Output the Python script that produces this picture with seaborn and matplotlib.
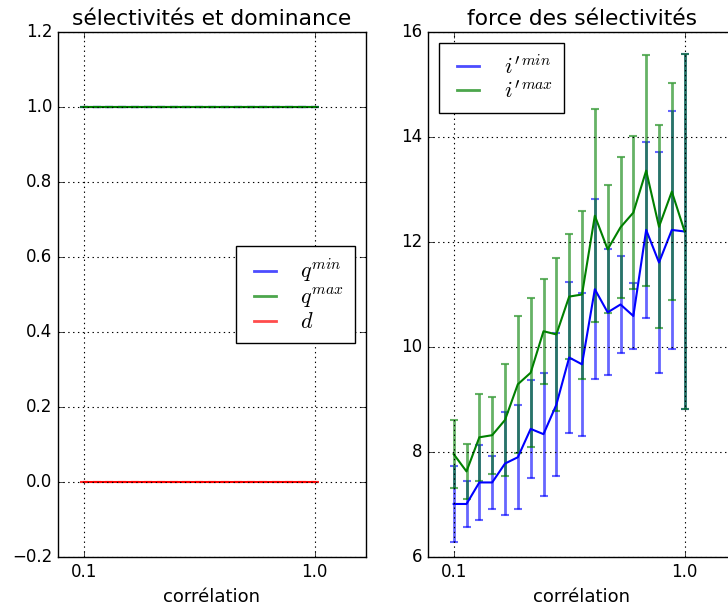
import matplotlib
matplotlib.use("Agg")
import matplotlib.pyplot as plt
from matplotlib.lines import Line2D
import seaborn as sns
import pandas as pd

# ---- data ----
corr = [0.10, 0.15, 0.20, 0.25, 0.30, 0.35, 0.40, 0.45, 0.50, 0.55,
        0.60, 0.65, 0.70, 0.75, 0.80, 0.85, 0.90, 0.95, 1.00]

q_min = [1.0, 1.0, 1.0, 1.0, 1.0, 1.0, 1.0, 1.0, 1.0, 1.0,
         1.0, 1.0, 1.0, 1.0, 1.0, 1.0, 1.0, 1.0, 1.0]
q_max = [1.0, 1.0, 1.0, 1.0, 1.0, 1.0, 1.0, 1.0, 1.0, 1.0,
         1.0, 1.0, 1.0, 1.0, 1.0, 1.0, 1.0, 1.0, 1.0]
d_vals = [0.0, 0.0, 0.0, 0.0, 0.0, 0.0, 0.0, 0.0, 0.0, 0.0,
          0.0, 0.0, 0.0, 0.0, 0.0, 0.0, 0.0, 0.0, 0.0]
zero_err = [0.0, 0.0, 0.0, 0.0, 0.0, 0.0, 0.0, 0.0, 0.0, 0.0,
            0.0, 0.0, 0.0, 0.0, 0.0, 0.0, 0.0, 0.0, 0.0]

i_min = [7.01, 7.01, 7.42, 7.42, 7.78, 7.90, 8.44, 8.34, 8.90, 9.80,
         9.67, 11.10, 10.66, 10.81, 10.59, 12.23, 11.61, 12.23, 12.20]
i_min_err = [0.73, 0.43, 0.72, 0.50, 0.98, 0.99, 0.94, 1.17, 1.36, 1.44,
             1.36, 1.71, 1.20, 0.92, 0.63, 1.68, 2.10, 2.27, 3.38]
i_max = [7.96, 7.63, 8.28, 8.32, 8.61, 9.29, 9.51, 10.30, 10.24, 10.96,
         11.00, 12.50, 11.86, 12.28, 12.56, 13.36, 12.29, 12.96, 12.20]
i_max_err = [0.65, 0.53, 0.83, 0.73, 1.06, 1.30, 1.42, 1.00, 1.46, 1.19,
             1.60, 2.03, 1.22, 1.34, 1.45, 2.20, 1.93, 2.07, 3.38]

left_labels = [r"$q^{min}$", r"$q^{max}$", r"$d$"]
right_labels = [r"$i'^{min}$", r"$i'^{max}$"]
x_ticks = [0.1, 1.0]
x_ticklabels = ["0.1", "1.0"]
left_yticks = [-0.2, 0.0, 0.2, 0.4, 0.6, 0.8, 1.0, 1.2]
right_yticks = [6, 8, 10, 12, 14, 16]

# ---- style ----
sns.set_style("ticks", {"axes.facecolor": "white"})
plt.style.use("classic")
plt.rcParams.update({
    "figure.facecolor": "white",
    "savefig.facecolor": "white",
    "font.family": ["DejaVu Sans"],
    "mathtext.fontset": "cm",
    "font.size": 12,
})

W, H = 728, 606
fig = plt.figure(figsize=(W / 100, H / 100), dpi=100)
ax1 = fig.add_axes([58 / W, 49 / H, 308 / W, 525 / H])
ax2 = fig.add_axes([428 / W, 49 / H, 308 / W, 525 / H])

err_kw = dict(fmt="none", alpha=0.6, capsize=3, elinewidth=2, capthick=1.5)
grid_kw = dict(linestyle=(0, (1, 2.5)), color="k", lw=0.8)
leg_kw = dict(fontsize=16, fancybox=False, labelspacing=0.1,
              handlelength=1.6, handletextpad=0.8, borderpad=0.5)


def draw_err(ax, x, y, e, c):
    cont = ax.errorbar(x, y, yerr=e, ecolor=c, **err_kw)
    for cap in cont[1]:
        cap.set_color(c)
        cap.set_markeredgecolor(c)
        cap.set_markerfacecolor(c)


# left panel
df_left = pd.DataFrame({"corr": corr, "q_min": q_min, "q_max": q_max, "d": d_vals})
for col, c in [("q_min", "b"), ("q_max", "g"), ("d", "r")]:
    draw_err(ax1, df_left["corr"], df_left[col], zero_err, c)
    sns.lineplot(data=df_left, x="corr", y=col, color=c, ax=ax1, lw=1.5,
                 legend=False)
ax1.set_xlim(0, 1.2)
ax1.set_ylim(-0.2, 1.2)
ax1.set_xticks(x_ticks)
ax1.set_xticklabels(x_ticklabels)
ax1.set_yticks(left_yticks)
ax1.set_xlabel("corrélation", fontsize=13)
ax1.set_ylabel("")
ax1.set_title("sélectivités et dominance", fontsize=15.7)
ax1.grid(True, **grid_kw)
h1 = [Line2D([], [], color=c, alpha=0.7, lw=2) for c in ["b", "g", "r"]]
ax1.legend(h1, left_labels, loc="center right", **leg_kw)

# right panel
df_right = pd.DataFrame({"corr": corr, "i_min": i_min, "i_max": i_max})
draw_err(ax2, df_right["corr"], df_right["i_min"], i_min_err, "b")
draw_err(ax2, df_right["corr"], df_right["i_max"], i_max_err, "g")
sns.lineplot(data=df_right, x="corr", y="i_min", color="b", ax=ax2, lw=1.5, legend=False)
sns.lineplot(data=df_right, x="corr", y="i_max", color="g", ax=ax2, lw=1.5, legend=False)
ax2.set_xlim(0, 1.2)
ax2.set_ylim(6, 16)
ax2.set_xticks(x_ticks)
ax2.set_xticklabels(x_ticklabels)
ax2.set_yticks(right_yticks)
ax2.set_xlabel("corrélation", fontsize=13)
ax2.set_ylabel("")
ax2.set_title("force des sélectivités", fontsize=15.7)
ax2.grid(True, **grid_kw)
h2 = [Line2D([], [], color=c, alpha=0.7, lw=2) for c in ["b", "g"]]
ax2.legend(h2, right_labels, loc="upper left", **leg_kw)

fig.savefig("out.png", dpi=100)
